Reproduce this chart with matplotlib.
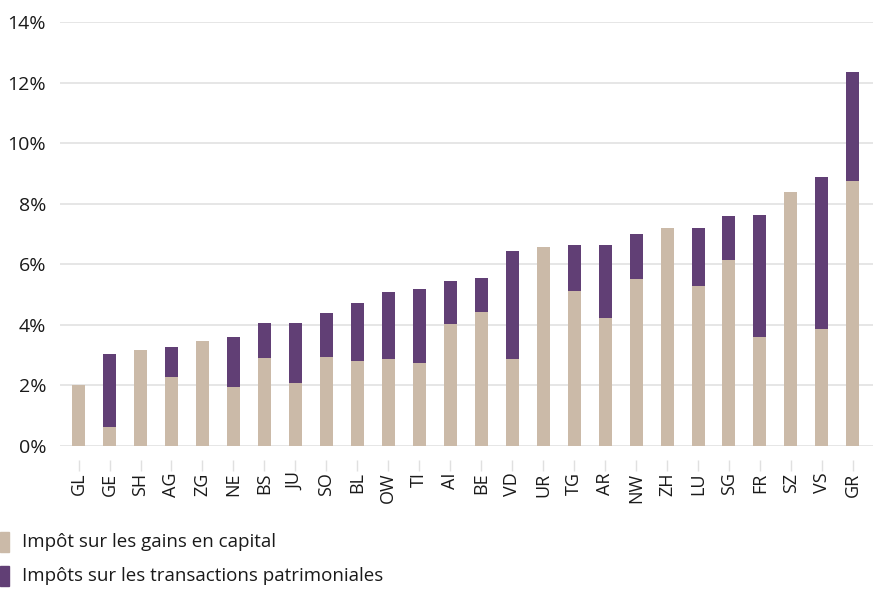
import matplotlib.pyplot as plt
from matplotlib.patches import Rectangle
import numpy as np

plt.rcParams['font.family'] = ['Open Sans', 'DejaVu Sans']

# cantons, sorted by total
cantons = ['GL', 'GE', 'SH', 'AG', 'ZG', 'NE', 'BS', 'JU', 'SO', 'BL', 'OW', 'TI', 'AI',
           'BE', 'VD', 'UR', 'TG', 'AR', 'NW', 'ZH', 'LU', 'SG', 'FR', 'SZ', 'VS', 'GR']
# capital gains tax (% )
gains = [2.01, 0.64, 3.17, 2.27, 3.46, 1.96, 2.91, 2.07, 2.95, 2.82, 2.87, 2.73, 4.04,
         4.44, 2.88, 6.57, 5.11, 4.24, 5.51, 7.19, 5.28, 6.13, 3.59, 8.40, 3.85, 8.74]
# totals (% )
totals = [2.01, 3.04, 3.17, 3.28, 3.46, 3.61, 4.07, 4.07, 4.38, 4.71, 5.10, 5.17, 5.46,
          5.54, 6.43, 6.57, 6.63, 6.63, 7.00, 7.19, 7.21, 7.58, 7.64, 8.40, 8.89, 12.36]
transactions = [t - g for t, g in zip(totals, gains)]

labels = ['Impôt sur les gains en capital', 'Impôts sur les transactions patrimoniales']
tan = '#CBBAA8'
purple = '#613F75'

fig = plt.figure(figsize=(8.73, 5.89), dpi=100)
ax = fig.add_axes([60 / 873, 1 - 446 / 589, 813 / 873, 424 / 589])

x = np.arange(len(cantons))
ax.bar(x, gains, width=0.42, color=tan, zorder=3)
ax.bar(x, transactions, bottom=gains, width=0.42, color=purple, zorder=3)

# ticks sit a little below the zero line, with a gap
ax.spines['bottom'].set_position(('outward', 10))

ax.set_ylim(0, 14)
ax.set_xlim(-0.6, len(cantons) - 0.35)
ax.set_yticks(range(0, 15, 2))
ax.set_yticklabels([f'{v}%' for v in range(0, 15, 2)])
ax.yaxis.grid(True, color='#E4E4E4', linewidth=1.3, zorder=0)
ax.tick_params(axis='y', length=0, pad=10, labelsize=14, labelcolor='#1a1a1a')
ax.set_xticks(x)
ax.set_xticklabels(cantons)
ax.tick_params(axis='x', length=8, width=1, color='#E0E0E0', pad=1, labelsize=13,
               labelcolor='#1a1a1a', labelrotation=90)
for s in ax.spines.values():
    s.set_visible(False)

# legend drawn by hand at the bottom left
for i, (lab, col) in enumerate(zip(labels, [tan, purple])):
    yc = 542 + i * 34
    fig.add_artist(Rectangle((0, 1 - (yc + 10) / 589), 9 / 873, 20 / 589,
                             transform=fig.transFigure, color=col))
    fig.text(22 / 873, 1 - yc / 589, lab, fontsize=13.5, va='center', ha='left',
             color='#1a1a1a')

fig.savefig('out.png', dpi=100)
